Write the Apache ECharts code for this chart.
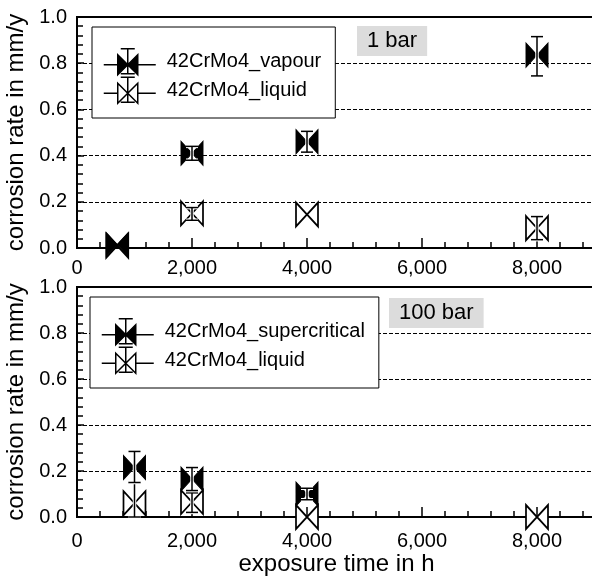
<!DOCTYPE html>
<html>
<head>
<meta charset="utf-8">
<script src="https://cdn.jsdelivr.net/npm/echarts@6/dist/echarts.min.js"></script>
<style>
  html, body { margin: 0; padding: 0; background: #fff; }
  #chart { width: 592px; height: 579px; }
</style>
</head>
<body>
<div id="chart"></div>
<script>
// top panel, 1 bar
var topVapourX = [700, 2000, 4000, 8000];
var topVapourY = [0.015, 0.41, 0.46, 0.835];
var topVapourLow = [0.015, 0.38, 0.415, 0.745];
var topVapourHigh = [0.015, 0.44, 0.505, 0.915];

var topLiquidX = [700, 2000, 4000, 8000];
var topLiquidY = [0.01, 0.15, 0.145, 0.086];
var topLiquidLow = [0.01, 0.12, 0.145, 0.036];
var topLiquidHigh = [0.01, 0.175, 0.145, 0.136];

// bottom panel, 100 bar
var botSuperX = [1000, 2000, 4000];
var botSuperY = [0.215, 0.165, 0.1];
var botSuperLow = [0.15, 0.115, 0.075];
var botSuperHigh = [0.285, 0.215, 0.125];

var botLiquidX = [1000, 2000, 4000, 8000];
var botLiquidY = [0.06, 0.065, 0.0, 0.0];
var botLiquidLow = [0.0, 0.02, 0.0, 0.0];
var botLiquidHigh = [0.15, 0.105, 0.0, 0.0];

var FONT = '"Liberation Sans", Arial, sans-serif';
var bowtie = 'path://M0 0L10 10L0 20ZM20 0L10 10L20 20Z';
var legendIcon = 'path://M0 16L14 16M34 16L52 16M24 0L24 25M17 0L31 0M17 25L31 25M14 6L24 16L14 26ZM34 6L24 16L34 26Z';

function pts(xs, ys) {
  return xs.map(function (x, i) { return [x, ys[i]]; });
}
function bars(xs, lo, hi) {
  return xs.map(function (x, i) { return [x, lo[i], hi[i]]; });
}

function renderErr(params, api) {
  var x = api.value(0);
  var lo = api.coord([x, api.value(1)]);
  var hi = api.coord([x, api.value(2)]);
  if (Math.abs(lo[1] - hi[1]) < 1) return;
  var w = 6;
  var segs = [
    [lo[0], lo[1], hi[0], hi[1]],
    [lo[0] - w, lo[1], lo[0] + w, lo[1]],
    [hi[0] - w, hi[1], hi[0] + w, hi[1]]
  ];
  var children = [];
  segs.forEach(function (s) {
    children.push({ type: 'line', shape: { x1: s[0], y1: s[1], x2: s[2], y2: s[3] },
      style: { stroke: '#fff', lineWidth: 3.5 } });
  });
  segs.forEach(function (s) {
    children.push({ type: 'line', shape: { x1: s[0], y1: s[1], x2: s[2], y2: s[3] },
      style: { stroke: '#000', lineWidth: 1.5 } });
  });
  return { type: 'group', children: children };
}

function xAxisFor(gi, name) {
  return {
    type: 'value', gridIndex: gi, min: 0, max: 10000, interval: 2000,
    axisLine: { show: true, onZero: false, lineStyle: { color: '#000', width: 2 } },
    axisTick: { show: true, inside: true, length: 10, lineStyle: { color: '#000', width: 1.5 } },
    minorTick: { show: true, splitNumber: 5, length: 6, lineStyle: { color: '#000', width: 1.5 } },
    splitLine: { show: false },
    axisLabel: { color: '#000', fontSize: 20, fontFamily: FONT, margin: gi === 0 ? 10 : 14,
      formatter: function (v) { return v.toLocaleString('en-US'); } },
    name: name, nameLocation: 'middle', nameGap: 30,
    nameTextStyle: { fontSize: 24, color: '#000', fontFamily: FONT, padding: [0, 56, 0, 0] }
  };
}

function yAxisFor(gi) {
  return {
    type: 'value', gridIndex: gi, min: 0, max: 1, interval: 0.2,
    axisLine: { show: true, lineStyle: { color: '#000', width: 2 } },
    axisTick: { show: true, inside: true, length: 7, lineStyle: { color: '#000', width: 1.5 } },
    minorTick: { show: true, splitNumber: 5, length: 6, lineStyle: { color: '#000', width: 1.5 } },
    splitLine: { show: true, lineStyle: { color: '#000', width: 1, type: [4, 2] } },
    axisLabel: { color: '#000', fontSize: 20, fontFamily: FONT, margin: 10,
      formatter: function (v) { return v.toFixed(1); } },
    name: 'corrosion rate in mm/y', nameLocation: 'middle', nameGap: 40,
    nameTextStyle: { fontSize: 24, color: '#000', fontFamily: FONT }
  };
}

function legendFor(left, top, names) {
  return {
    left: left, top: top, orient: 'vertical', selectedMode: false,
    backgroundColor: '#fff', borderColor: '#000', borderWidth: 1,
    padding: [21, 14, 14, 11], itemWidth: 52, itemHeight: 26, itemGap: 1,
    textStyle: { fontSize: 20, color: '#000', fontFamily: FONT, padding: [0, 0, 0, 6] },
    data: [
      { name: names[0], icon: legendIcon, itemStyle: { color: '#000', borderColor: '#000', borderWidth: 1.5 } },
      { name: names[1], icon: legendIcon, itemStyle: { color: '#fff', borderColor: '#000', borderWidth: 1.5 } }
    ]
  };
}

function markerSeries(name, gi, data, filled) {
  return {
    name: name, type: 'scatter', xAxisIndex: gi, yAxisIndex: gi,
    symbol: bowtie, symbolSize: [22, 24], data: data, z: filled ? 3 : 2,
    itemStyle: { color: filled ? '#000' : '#fff', borderColor: '#000', borderWidth: filled ? 1 : 1.8, opacity: 1 }
  };
}

function errSeries(gi, data) {
  return {
    type: 'custom', xAxisIndex: gi, yAxisIndex: gi, z: 4,
    renderItem: renderErr, encode: { x: 0, y: [1, 2] }, data: data
  };
}

var chart = echarts.init(document.getElementById('chart'));
chart.setOption({
  animation: false,
  textStyle: { fontFamily: FONT },
  title: [
    { text: '1 bar', left: 357, top: 26, backgroundColor: '#dcdcdc', padding: [4, 10],
      textStyle: { fontSize: 22, fontWeight: 'normal', color: '#000', fontFamily: FONT } },
    { text: '100 bar', left: 389, top: 298, backgroundColor: '#dcdcdc', padding: [4, 10],
      textStyle: { fontSize: 22, fontWeight: 'normal', color: '#000', fontFamily: FONT } }
  ],
  legend: [
    legendFor(92, 27, ['42CrMo4_vapour', '42CrMo4_liquid']),
    legendFor(90, 297, ['42CrMo4_supercritical', '42CrMo4_liquid'])
  ],
  grid: [
    { left: 77, top: 17, width: 575, height: 231, show: true, borderColor: '#000', borderWidth: 2,
      outerBoundsMode: 'none', containLabel: false },
    { left: 77, top: 287, width: 575, height: 230, show: true, borderColor: '#000', borderWidth: 2,
      outerBoundsMode: 'none', containLabel: false }
  ],
  xAxis: [xAxisFor(0, ''), xAxisFor(1, 'exposure time in h')],
  yAxis: [yAxisFor(0), yAxisFor(1)],
  series: [
    markerSeries('42CrMo4_liquid', 0, pts(topLiquidX, topLiquidY), false),
    markerSeries('42CrMo4_vapour', 0, pts(topVapourX, topVapourY), true),
    errSeries(0, bars(topLiquidX, topLiquidLow, topLiquidHigh)),
    errSeries(0, bars(topVapourX, topVapourLow, topVapourHigh)),
    markerSeries('42CrMo4_liquid', 1, pts(botLiquidX, botLiquidY), false),
    markerSeries('42CrMo4_supercritical', 1, pts(botSuperX, botSuperY), true),
    errSeries(1, bars(botLiquidX, botLiquidLow, botLiquidHigh)),
    errSeries(1, bars(botSuperX, botSuperLow, botSuperHigh))
  ]
});
</script>
</body>
</html>
